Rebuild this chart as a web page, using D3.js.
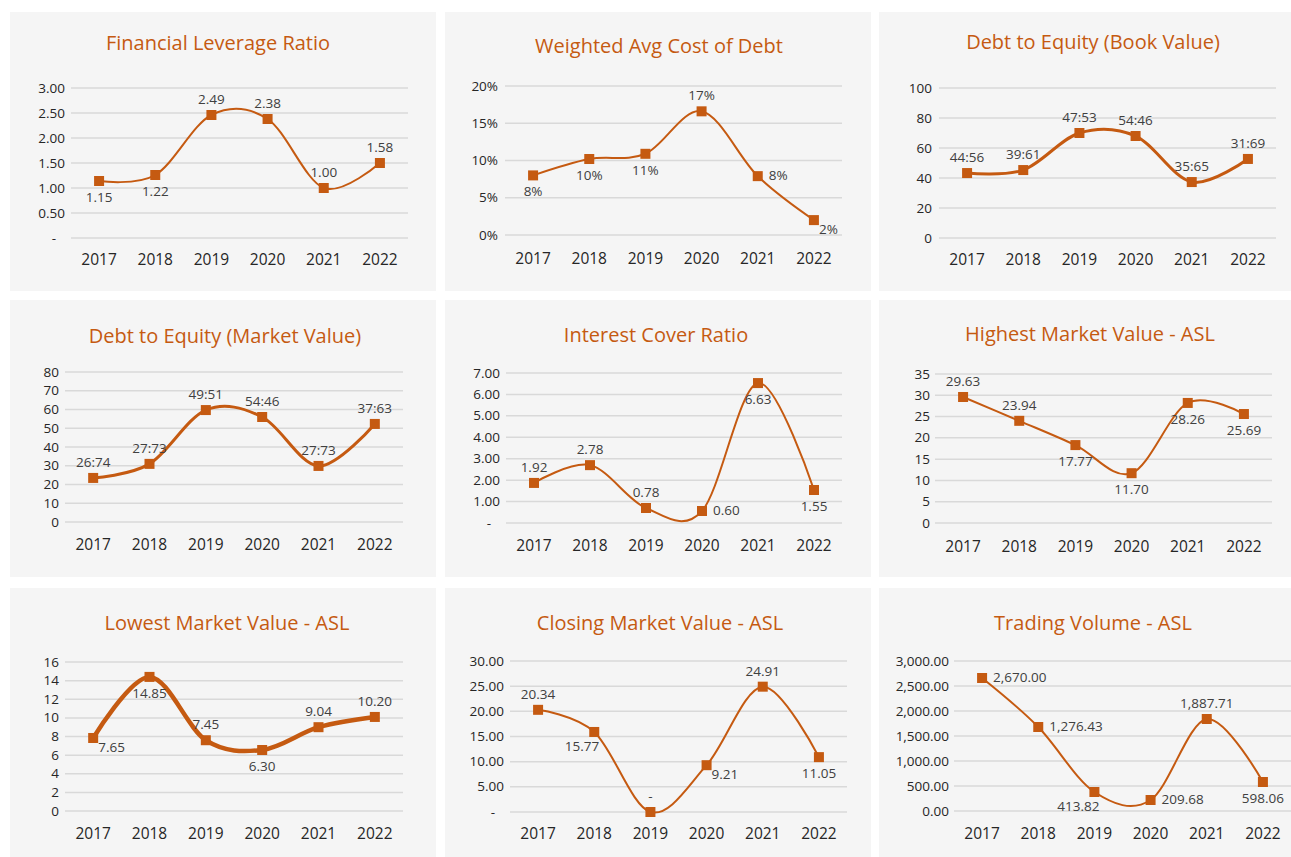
<!DOCTYPE html>
<html>
<head>
<meta charset="utf-8">
<script src="https://cdn.jsdelivr.net/npm/d3@7"></script>
<style>
  body { margin: 0; background: #ffffff; }
  svg { display: block; font-family: "Open Sans", sans-serif; }
</style>
</head>
<body>
<div id="charts"></div>
<script>
// years on the x axis
var years = ["2017", "2018", "2019", "2020", "2021", "2022"];

// values (marker positions) and the labels printed next to them
var leverageValues = [1.14, 1.26, 2.46, 2.38, 1.00, 1.50];
var leverageLabels = ["1.15", "1.22", "2.49", "2.38", "1.00", "1.58"];
var leverageTicks = [0, 0.5, 1, 1.5, 2, 2.5, 3];

var costDebtValues = [8, 10.2, 10.9, 16.6, 7.9, 2.0];
var costDebtLabels = ["8%", "10%", "11%", "17%", "8%", "2%"];
var costDebtTicks = [0, 5, 10, 15, 20];

var bookValues = [43.3, 45.3, 70, 68, 37.3, 52.7];
var bookLabels = ["44:56", "39:61", "47:53", "54:46", "35:65", "31:69"];
var bookTicks = [0, 20, 40, 60, 80, 100];

var marketValues = [23.5, 31, 59.7, 56, 29.9, 52.3];
var marketLabels = ["26:74", "27:73", "49:51", "54:46", "27:73", "37:63"];
var marketTicks = [0, 10, 20, 30, 40, 50, 60, 70, 80];

var coverValues = [1.87, 2.7, 0.7, 0.56, 6.53, 1.54];
var coverLabels = ["1.92", "2.78", "0.78", "0.60", "6.63", "1.55"];
var coverTicks = [0, 1, 2, 3, 4, 5, 6, 7];

var highValues = [29.6, 24.0, 18.3, 11.7, 28.2, 25.6];
var highLabels = ["29.63", "23.94", "17.77", "11.70", "28.26", "25.69"];
var highTicks = [0, 5, 10, 15, 20, 25, 30, 35];

var lowValues = [7.84, 14.4, 7.6, 6.55, 9.0, 10.1];
var lowLabels = ["7.65", "14.85", "7.45", "6.30", "9.04", "10.20"];
var lowTicks = [0, 2, 4, 6, 8, 10, 12, 14, 16];

var closeValues = [20.3, 15.9, 0, 9.3, 24.9, 10.9];
var closeLabels = ["20.34", "15.77", "-", "9.21", "24.91", "11.05"];
var closeTicks = [0, 5, 10, 15, 20, 25, 30];

var volumeValues = [2660, 1680, 380, 220, 1840, 580];
var volumeLabels = ["2,670.00", "1,276.43", "413.82", "209.68", "1,887.71", "598.06"];
var volumeTicks = [0, 500, 1000, 1500, 2000, 2500, 3000];

// tick formats
var dash2 = function (d) { return d === 0 ? "-" : d3.format(".2f")(d); };
var pct = function (d) { return d + "%"; };
var plain = function (d) { return String(d); };
var vol = d3.format(",.2f");

var charts = [
  { title: "Financial Leverage Ratio", values: leverageValues, labels: leverageLabels, ticks: leverageTicks, fmt: dash2,
    place: ["b", "b", "t", "t", "t", "t"] },
  { title: "Weighted Avg Cost of Debt", values: costDebtValues, labels: costDebtLabels, ticks: costDebtTicks, fmt: pct,
    place: ["b", "b", "b", "t", "r", "br"] },
  { title: "Debt to Equity (Book Value)", values: bookValues, labels: bookLabels, ticks: bookTicks, fmt: plain,
    place: ["t", "t", "t", "t", "t", "t"] },
  { title: "Debt to Equity (Market Value)", values: marketValues, labels: marketLabels, ticks: marketTicks, fmt: plain,
    place: ["t", "t", "t", "t", "t", "t"] },
  { title: "Interest Cover Ratio", values: coverValues, labels: coverLabels, ticks: coverTicks, fmt: dash2,
    place: ["t", "t", "t", "r", "b", "b"] },
  { title: "Highest Market Value - ASL", values: highValues, labels: highLabels, ticks: highTicks, fmt: plain,
    place: ["t", "t", "b", "b", "b", "b"] },
  { title: "Lowest Market Value - ASL", values: lowValues, labels: lowLabels, ticks: lowTicks, fmt: plain,
    place: ["br", "b", "t", "b", "t", "t"] },
  { title: "Closing Market Value - ASL", values: closeValues, labels: closeLabels, ticks: closeTicks, fmt: dash2,
    place: ["t", "bl", "t", "br", "t", "b"] },
  { title: "Trading Volume - ASL", values: volumeValues, labels: volumeLabels, ticks: volumeTicks, fmt: vol,
    place: ["r", "r", "bl", "r", "t", "b"] }
];

// panel geometry (page px), one per chart
var layout = [
  { x: 10,  y: 12,  w: 426, h: 279, tx: 208, ty: 38, top: 76, bottom: 226, left: 61, right: 398, yl: 55, xl: 253, lw: 2 },
  { x: 445, y: 12,  w: 426, h: 279, tx: 214, ty: 41, top: 74, bottom: 223, left: 60, right: 397, yl: 53, xl: 252, lw: 2 },
  { x: 879, y: 12,  w: 412, h: 279, tx: 214, ty: 37, top: 76, bottom: 226, left: 60, right: 397, yl: 53, xl: 253, lw: 3 },
  { x: 10,  y: 300, w: 426, h: 277, tx: 215, ty: 43, top: 72, bottom: 222, left: 55, right: 393, yl: 49, xl: 250, lw: 3 },
  { x: 445, y: 300, w: 426, h: 277, tx: 211, ty: 42, top: 73, bottom: 223, left: 61, right: 397, yl: 55, xl: 251, lw: 2 },
  { x: 879, y: 300, w: 412, h: 277, tx: 211, ty: 41, top: 74, bottom: 223, left: 56, right: 393, yl: 51, xl: 252, lw: 2 },
  { x: 10,  y: 588, w: 426, h: 269, tx: 217, ty: 42, top: 74, bottom: 223, left: 55, right: 393, yl: 49, xl: 251, lw: 4.5 },
  { x: 445, y: 588, w: 426, h: 269, tx: 215, ty: 42, top: 73, bottom: 224, left: 65, right: 402, yl: 59, xl: 251, lw: 2 },
  { x: 879, y: 588, w: 412, h: 269, tx: 214, ty: 42, top: 73, bottom: 223, left: 75, right: 412, yl: 70, xl: 251, lw: 2 }
];

// where a data label sits relative to its marker
var offsets = {
  t:  { dx: 0,  dy: -11, anchor: "middle" },
  b:  { dx: 0,  dy: 21,  anchor: "middle" },
  r:  { dx: 11, dy: 4,   anchor: "start" },
  br: { dx: 5,  dy: 14,  anchor: "start" },
  bl: { dx: 5,  dy: 19,  anchor: "end" }
};

var orange = "#C55A11";

var svg = d3.select("#charts")
    .append("svg")
    .attr("width", 1291)
    .attr("height", 857);

charts.forEach(function (c, i) {
    var L = layout[i];
    var g = svg.append("g")
        .attr("transform", "translate(" + L.x + "," + L.y + ")");

    g.append("rect")
        .attr("width", L.w)
        .attr("height", L.h)
        .attr("fill", "#f5f5f5");

    var clip = "clip" + i;
    g.append("clipPath").attr("id", clip)
        .append("rect").attr("width", L.w).attr("height", L.h);

    var inner = g.append("g").attr("clip-path", "url(#" + clip + ")");

    g.append("text")
        .attr("x", L.tx)
        .attr("y", L.ty)
        .attr("text-anchor", "middle")
        .attr("fill", orange)
        .style("font-size", "20px")
        .text(c.title);

    var x = d3.scalePoint()
        .domain(years)
        .range([L.left, L.right])
        .padding(0.5);

    var y = d3.scaleLinear()
        .domain([0, d3.max(c.ticks)])
        .range([L.bottom, L.top]);

    // gridlines
    inner.append("g")
        .selectAll("line")
        .data(c.ticks)
        .enter()
        .append("line")
        .attr("x1", L.left)
        .attr("x2", L.right)
        .attr("y1", function (d) { return y(d); })
        .attr("y2", function (d) { return y(d); })
        .attr("stroke", "#d9d9d9")
        .attr("stroke-width", 1.5);

    // y tick labels
    g.append("g")
        .selectAll("text")
        .data(c.ticks)
        .enter()
        .append("text")
        .attr("x", function (d) { return c.fmt(d) === "-" ? L.yl - 9 : L.yl; })
        .attr("y", function (d) { return y(d) + 4.5; })
        .attr("text-anchor", "end")
        .attr("fill", "#262626")
        .style("font-size", "13.5px")
        .text(c.fmt);

    // x labels
    g.append("g")
        .selectAll("text")
        .data(years)
        .enter()
        .append("text")
        .attr("x", function (d) { return x(d); })
        .attr("y", L.xl)
        .attr("text-anchor", "middle")
        .attr("fill", "#262626")
        .style("font-size", "15.5px")
        .text(function (d) { return d; });

    var pts = years.map(function (yr, j) { return { year: yr, v: c.values[j], label: c.labels[j], place: c.place[j] }; });

    inner.append("path")
        .datum(pts)
        .attr("d", d3.line()
            .x(function (d) { return x(d.year); })
            .y(function (d) { return y(d.v); })
            .curve(d3.curveCatmullRom.alpha(0)))
        .attr("fill", "none")
        .attr("stroke", orange)
        .attr("stroke-width", L.lw);

    var ms = 10;
    inner.append("g")
        .selectAll("rect")
        .data(pts)
        .enter()
        .append("rect")
        .attr("x", function (d) { return x(d.year) - ms / 2; })
        .attr("y", function (d) { return y(d.v) - ms / 2; })
        .attr("width", ms)
        .attr("height", ms)
        .attr("fill", orange);

    inner.append("g")
        .selectAll("text")
        .data(pts)
        .enter()
        .append("text")
        .attr("x", function (d) { return x(d.year) + offsets[d.place].dx; })
        .attr("y", function (d) { return y(d.v) + offsets[d.place].dy; })
        .attr("text-anchor", function (d) { return offsets[d.place].anchor; })
        .attr("fill", "#404040")
        .style("font-size", "13.5px")
        .text(function (d) { return d.label; });
});
</script>
</body>
</html>
